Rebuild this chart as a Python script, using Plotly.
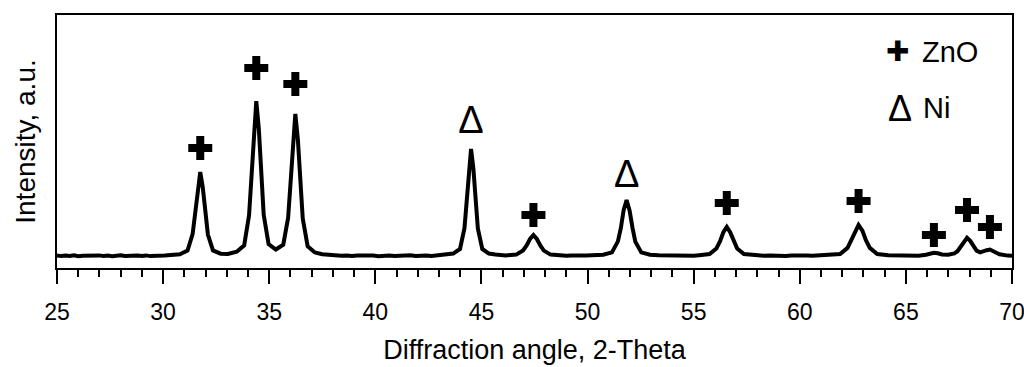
import plotly.graph_objects as go

# ---------------- data ----------------
# diffraction pattern: 2-theta (deg) and intensity (a.u.)
two_theta = [
    25.0, 25.2, 25.4, 25.6, 25.8, 26.0, 26.2, 26.4, 26.6, 26.8, 27.0, 27.2, 27.4, 27.6,
    27.8, 28.0, 28.2, 28.4, 28.6, 28.8, 29.0, 29.2, 29.4, 29.6, 29.8,
    30.07, 30.79, 31.15, 31.39, 31.51, 31.63, 31.75, 31.87, 31.99, 32.11, 32.35, 32.71,
    33.05,
    33.47, 33.82, 34.05, 34.16, 34.28, 34.39, 34.51, 34.62, 34.74, 34.97, 35.31,
    35.66, 35.89, 36.0, 36.12, 36.23, 36.35, 36.46, 36.58, 36.81, 37.15, 37.5, 37.84,
    38.15, 38.4, 38.65, 38.9, 39.15, 39.4, 39.65, 39.9, 40.15, 40.4, 40.65, 40.9,
    41.15, 41.4, 41.65, 41.9, 42.15, 42.4, 42.65,
    43.04, 43.4, 43.67, 43.99, 44.2, 44.3, 44.41, 44.51, 44.62, 44.72, 44.83, 45.04,
    45.35, 45.65, 45.98,
    46.15, 46.64, 46.96, 47.13, 47.29, 47.45, 47.61, 47.78, 47.94, 48.26, 48.75,
    49.0, 49.25, 49.5, 49.75,
    49.92, 50.3, 50.74, 51.15, 51.43, 51.57, 51.70, 51.84, 51.98, 52.12, 52.25, 52.53,
    52.94, 53.35, 53.77,
    54.0, 54.25, 54.5, 54.75, 55.0,
    55.26, 55.75, 56.07, 56.24, 56.4, 56.56, 56.72, 56.89, 57.05, 57.37, 57.86, 58.3,
    58.6, 58.84, 59.1, 59.35, 59.6, 59.85, 60.1, 60.35, 60.6, 60.85, 61.1,
    61.37, 61.9, 62.25, 62.42, 62.6, 62.77, 62.95, 63.12, 63.3, 63.65, 64.17, 64.7,
    64.95, 65.22, 65.4, 65.6,
    65.95, 66.15, 66.32, 66.5, 66.7, 67.0, 67.28, 67.43, 67.58, 67.73, 67.88, 68.03,
    68.18, 68.33, 68.5, 68.66, 68.81, 68.96, 69.11, 69.26, 69.41, 69.6, 69.8, 70.0,
]
intensity = [
    12.6, 11.9, 12.4, 12.0, 12.7, 11.8, 12.3, 12.5, 11.7, 12.2, 12.6, 11.9, 12.4, 11.8,
    12.3, 12.7, 12.0, 12.4, 11.8, 12.5, 12.1, 12.6, 11.9, 12.4, 12.2,
    12.6, 13.8, 17.5, 33.8, 54.0, 80.9, 96.0, 80.5, 53.5, 33.5, 17.6, 14.3,
    14.0,
    16.3, 22.6, 52.7, 89.8, 139.1, 166.9, 139.3, 90.1, 53.2, 23.8, 18.5,
    23.2, 50.1, 83.7, 128.7, 154.0, 128.5, 83.3, 49.4, 21.8, 15.5, 13.8, 13.0,
    12.8, 12.2, 12.6, 11.9, 12.4, 12.7, 12.0, 12.5, 11.8, 12.4, 12.6, 12.0,
    12.5, 12.2, 12.7, 11.9, 12.4, 12.6, 12.1,
    12.7, 13.6, 14.4, 19.0, 39.8, 65.5, 99.7, 119.0, 99.5, 65.2, 39.6, 19.0,
    14.4, 13.4, 12.9,
    12.6, 13.4, 17.5, 22.5, 29.2, 33.0, 29.0, 22.3, 17.4, 13.4, 12.5,
    12.2, 12.6, 12.0, 12.4,
    12.5, 12.7, 13.2, 15.6, 26.6, 40.0, 57.9, 68.0, 57.6, 39.8, 26.4, 15.6,
    13.2, 12.7, 12.4,
    12.1, 12.6, 12.0, 12.5, 12.3,
    12.8, 13.9, 19.5, 26.5, 35.8, 41.0, 35.8, 26.5, 19.5, 13.9, 12.6, 12.3,
    12.6, 12.2, 12.6, 11.9, 12.4, 12.7, 12.1, 12.5, 12.2, 12.6, 12.4,
    12.8, 14.0, 20.1, 27.5, 37.4, 43.0, 37.4, 27.5, 20.1, 14.0, 12.7, 12.4,
    12.7, 12.2, 12.6, 12.2,
    13.3, 14.6, 15.3, 14.7, 13.5, 13.3, 14.5, 16.8, 21.1, 26.9, 30.2, 27.1,
    21.4, 17.4, 15.7, 16.3, 17.8, 18.5, 17.3, 15.3, 13.8, 12.9, 12.4, 12.3,
]

# phase markers: peak position and the intensity level where the marker sits
zno_2theta = [31.75, 34.39, 36.23, 47.45, 56.56, 62.77, 66.32, 67.88, 68.96]
zno_marker_I = [120, 200, 184, 53, 65, 67, 33, 58, 41]
ni_2theta = [44.51, 51.84]
ni_marker_I = [145, 91]

x_ticks = [25, 30, 35, 40, 45, 50, 55, 60, 65, 70]
x_title = "Diffraction angle, 2-Theta"
y_title = "Intensity, a.u."
legend_names = ["ZnO", "Ni"]

FONT = "Liberation Sans, Arial, sans-serif"

fig = go.Figure()
fig.add_trace(go.Scatter(
    x=two_theta, y=intensity, mode="lines",
    line=dict(color="black", width=4), showlegend=False, hoverinfo="skip"))
fig.add_trace(go.Scatter(
    x=zno_2theta, y=zno_marker_I, mode="markers",
    marker=dict(symbol="cross", size=20, color="black", line=dict(width=0)),
    showlegend=False, hoverinfo="skip"))
fig.add_trace(go.Scatter(
    x=ni_2theta, y=ni_marker_I, mode="text", text=["Δ"] * len(ni_2theta),
    textposition="middle center",
    textfont=dict(size=38, color="black", family=FONT),
    showlegend=False, hoverinfo="skip"))

# legend keys drawn as annotations in paper space
fig.add_annotation(xref="paper", yref="paper", x=0.8806, y=0.854, text="✚",
                   showarrow=False, xanchor="center", yanchor="middle",
                   font=dict(size=28, color="black", family="DejaVu Sans"))
fig.add_annotation(xref="paper", yref="paper", x=0.904, y=0.854, text=legend_names[0],
                   showarrow=False, xanchor="left", yanchor="middle",
                   font=dict(size=29, color="black", family=FONT))
fig.add_annotation(xref="paper", yref="paper", x=0.8827, y=0.632, text="Δ",
                   showarrow=False, xanchor="center", yanchor="middle",
                   font=dict(size=36, color="black", family=FONT))
fig.add_annotation(xref="paper", yref="paper", x=0.905, y=0.632, text=legend_names[1],
                   showarrow=False, xanchor="left", yanchor="middle",
                   font=dict(size=29, color="black", family=FONT))

fig.update_layout(
    width=1024, height=367,
    margin=dict(l=57, r=12, t=15, b=99, autoexpand=False),
    paper_bgcolor="white", plot_bgcolor="white",
    font=dict(family=FONT, color="black"),
)
fig.update_xaxes(
    range=[25, 70], tickmode="array", tickvals=x_ticks, automargin=False,
    ticks="outside", ticklen=14, tickwidth=2, tickcolor="black",
    ticklabelstandoff=8, ticklabeloverflow="allow",
    showline=True, linecolor="black", linewidth=2, mirror=True,
    showgrid=False, zeroline=False,
    tickfont=dict(size=23, color="black"),
    title=dict(text=x_title, font=dict(size=27, color="black"), standoff=17),
    minor=dict(tick0=25, dtick=1, ticks="outside", ticklen=7, tickwidth=2,
               tickcolor="black", showgrid=False),
)
fig.update_yaxes(
    range=[0, 253], showticklabels=False, ticks="", automargin=False,
    showline=True, linecolor="black", linewidth=2, mirror=True,
    showgrid=False, zeroline=False,
    title=dict(text=y_title, font=dict(size=28, color="black"), standoff=11),
)

fig.write_html(
    "out.html",
    config={"displayModeBar": False},
    post_script=(
        "document.documentElement.style.margin='0px';"
        "document.documentElement.style.overflow='hidden';"
        "document.body.style.margin='0px';"
        "document.body.style.overflow='hidden';"
    ),
)
